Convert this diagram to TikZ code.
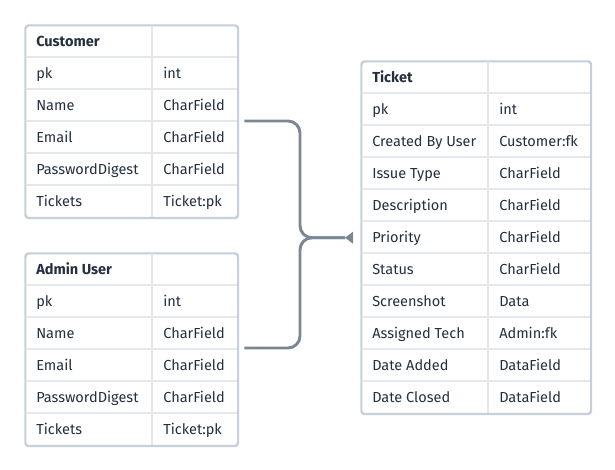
\documentclass[tikz,border=0pt]{standalone}
\usepackage{fontspec}
\setmainfont{Fira Sans}
\usetikzlibrary{calc}
\definecolor{txt}{HTML}{243040}
\definecolor{outer}{HTML}{C6D0DA}
\definecolor{inner}{HTML}{E3E8ED}
\definecolor{conn}{HTML}{7A8796}
\tikzset{
  tbl/.style={draw=outer, line width=1.1pt, rounded corners=2.5pt, inner sep=0pt, fill=white},
  cell/.style={anchor=base west, inner sep=0pt, text=txt, font=\fontsize{10.9pt}{13pt}\selectfont},
  rowline/.style={draw=inner, line width=0.9pt},
  link/.style={draw=conn, line width=2.2pt},
}
\newcommand{\mktable}[6]{% name, left, top, right, colx, nrows
  \node[tbl, minimum width={(#4-#2)*0.75pt}, minimum height={#6*32*0.75pt}, anchor=north west] (#1) at (#2,#3) {};
  \foreach \i in {1,...,\numexpr#6-1\relax}{
    \draw[rowline] (#2,#3+\i*32) -- (#4,#3+\i*32);
  }
  \draw[rowline] (#5,#3) -- (#5,#3+#6*32);
  \draw[draw=outer, line width=1.1pt, rounded corners=2.5pt] (#1.south west) rectangle (#1.north east);
}
\begin{document}
\begin{tikzpicture}[x=0.75pt,y=-0.75pt]
\useasboundingbox (0,0) rectangle (615,470);
% Customer
\mktable{cust}{25}{25}{237}{152}{6}
\foreach \t/\v [count=\k from 0] in {{\textbf{Customer}}/{}, pk/int, Name/CharField, Email/CharField, PasswordDigest/CharField, Tickets/{Ticket:pk}}{
  \node[cell] (cust-a\k) at (36,25+22+\k*32) {\t};
  \node[cell] (cust-b\k) at (163,25+22+\k*32) {\v};
}
% Admin User
\mktable{admin}{25}{253}{237}{152}{6}
\foreach \t/\v [count=\k from 0] in {{\textbf{Admin User}}/{}, pk/int, Name/CharField, Email/CharField, PasswordDigest/CharField, Tickets/{Ticket:pk}}{
  \node[cell] (admin-a\k) at (36,253+22+\k*32) {\t};
  \node[cell] (admin-b\k) at (163,253+22+\k*32) {\v};
}
% Ticket
\mktable{ticket}{361}{61}{590}{488}{11}
\foreach \t/\v [count=\k from 0] in {{\textbf{Ticket}}/{}, pk/int, Created By User/{Customer:fk}, Issue Type/CharField, Description/CharField, Priority/CharField, Status/CharField, Screenshot/Data, Assigned Tech/{Admin:fk}, Date Added/DataField, Date Closed/DataField}{
  \node[cell] (ticket-a\k) at (372,61+22+\k*32) {\t};
  \node[cell] (ticket-b\k) at (499,61+22+\k*32) {\v};
}
% connectors
\coordinate (c1) at ($(cust.north east)+(6*0.75pt,-96*0.75pt)$);
\coordinate (c2) at ($(admin.north east)+(6*0.75pt,-95*0.75pt)$);
\coordinate (tip) at ($(ticket.west)+(-8*0.75pt,0)$);
\coordinate (base) at ($(ticket.west)+(-16*0.75pt,0)$);
\coordinate (jx) at (300,0);
\draw[link, rounded corners=9pt] (c1) -- (c1 -| jx) -- (jx |- tip) -- (base);
\draw[link, rounded corners=9pt] (c2) -- (c2 -| jx) -- (jx |- tip) -- (base);
\fill[conn] (base) -- ($(tip)+(0,-6*0.75pt)$) -- ($(tip)+(0,6*0.75pt)$) -- cycle;
\end{tikzpicture}
\end{document}
